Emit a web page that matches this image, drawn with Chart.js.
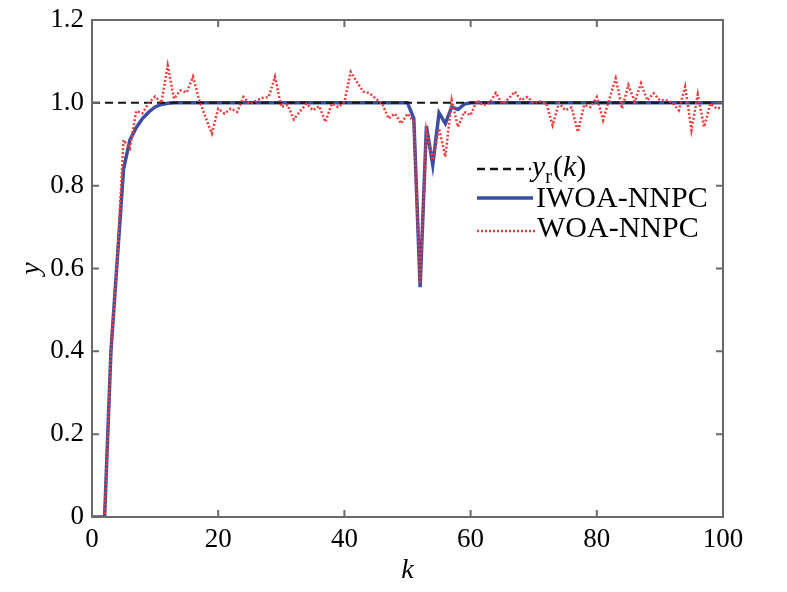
<!DOCTYPE html>
<html>
<head>
<meta charset="utf-8">
<script src="https://cdn.jsdelivr.net/npm/chart.js@4/dist/chart.umd.min.js"></script>
<style>
  html, body { margin: 0; padding: 0; background: #ffffff; }
  #wrap { width: 787px; height: 592px; }
</style>
</head>
<body>
<div id="wrap"><canvas id="c" width="787" height="592"></canvas></div>
<script>
// k (sample index)
const kValues = [0,1,2,3,4,5,6,7,8,9,10,11,12,13,14,15,16,17,18,19,20,
  21,22,23,24,25,26,27,28,29,30,31,32,33,34,35,36,37,38,39,40,
  41,42,43,44,45,46,47,48,49,50,51,52,53,54,55,56,57,58,59,60,
  61,62,63,64,65,66,67,68,69,70,71,72,73,74,75,76,77,78,79,80,
  81,82,83,84,85,86,87,88,89,90,91,92,93,94,95,96,97,98,99,100];

// reference y_r(k)
const yrValues = [1,1,1,1,1,1,1,1,1,1,1,1,1,1,1,1,1,1,1,1,1,
  1,1,1,1,1,1,1,1,1,1,1,1,1,1,1,1,1,1,1,1,
  1,1,1,1,1,1,1,1,1,1,1,1,1,1,1,1,1,1,1,1,
  1,1,1,1,1,1,1,1,1,1,1,1,1,1,1,1,1,1,1,1,
  1,1,1,1,1,1,1,1,1,1,1,1,1,1,1,1,1,1,1,1];

// IWOA-NNPC output
const iwoaValues = [0,0,0,0.40,0.62,0.84,0.91,0.94,0.962,0.978,0.99,
  0.996,0.999,1,1,1,1,1,1,1,1,
  1,1,1,1,1,1,1,1,1,1,
  1,1,1,1,1,1,1,1,1,1,
  1,1,1,1,1,1,1,1,1,1,
  0.962,0.555,0.944,0.85,0.976,0.95,0.99,0.984,0.997,1,
  1,1,1,1,1,1,1,1,1,1,
  1,1,1,1,1,1,1,1,1,1,
  1,1,1,1,1,1,1,1,1,1,
  1,1,1,1,1,1,1,1,1,1];

// WOA-NNPC output
const woaValues = [0,0,0,0.40,0.62,0.91,0.89,0.98,0.975,1.0,1.015,
  1.0,1.09,1.01,1.03,1.025,1.063,1.006,0.965,0.926,0.986,
  0.974,0.986,0.978,1.014,0.997,1.005,1.012,1.014,1.063,0.99,
  0.995,0.96,0.98,0.998,0.982,0.992,0.954,0.998,0.99,1.002,
  1.075,1.05,1.027,1.023,1.01,0.998,0.962,0.974,0.95,0.974,
  0.954,0.564,0.934,0.862,0.938,0.87,1.006,0.942,0.978,0.97,
  1.006,0.994,1.0,1.024,0.998,1.01,1.027,1.006,1.014,1.0,
  1.003,0.998,0.946,1.0,0.982,0.989,0.93,0.995,0.99,1.014,
  0.958,1.01,1.059,0.986,1.043,1.003,1.047,1.006,1.023,1.006,
  1.006,1.0,0.982,1.039,0.934,1.02,0.942,0.998,0.986,0.99];

const xTicks = [0,20,40,60,80,100];
const yTicks = [0,0.2,0.4,0.6,0.8,1.0,1.2];
const yTickLabels = ['0','0.2','0.4','0.6','0.8','1.0','1.2'];

const SERIF = "'Liberation Serif', 'DejaVu Serif', serif";
const FRAME = '#6a6a6a';
const BLUE = '#3a4ea8';
const RED = '#ee3b3b';
const BLACK = '#141414';

function pts(vals) { return vals.map((v, i) => ({ x: kValues[i], y: v })); }

const framePlugin = {
  id: 'frame',
  afterDatasetsDraw(chart) {
    const { ctx, chartArea: a, scales } = chart;
    const xs = scales.x, ys = scales.y;
    ctx.save();
    ctx.strokeStyle = FRAME;
    ctx.lineWidth = 2;
    ctx.strokeRect(a.left, a.top, a.right - a.left, a.bottom - a.top);
    const tl = 7;
    ctx.beginPath();
    xTicks.forEach(t => {
      const px = xs.getPixelForValue(t);
      ctx.moveTo(px, a.bottom); ctx.lineTo(px, a.bottom - tl);
      ctx.moveTo(px, a.top); ctx.lineTo(px, a.top + tl);
    });
    yTicks.forEach(t => {
      const py = ys.getPixelForValue(t);
      ctx.moveTo(a.left, py); ctx.lineTo(a.left + tl, py);
      ctx.moveTo(a.right, py); ctx.lineTo(a.right - tl, py);
    });
    ctx.stroke();
    ctx.restore();
  },
  afterDraw(chart) {
    const { ctx } = chart;
    ctx.save();
    ctx.textBaseline = 'alphabetic';
    ctx.fillStyle = '#000';
    const x0 = 477;
    // row 1: y_r(k)
    ctx.strokeStyle = BLACK; ctx.lineWidth = 2.5; ctx.setLineDash([8, 5]);
    ctx.beginPath(); ctx.moveTo(x0, 169); ctx.lineTo(531, 169); ctx.stroke();
    ctx.setLineDash([]);
    let x = 532;
    ctx.font = 'italic 30px ' + SERIF;
    ctx.fillText('y', x, 176); x += ctx.measureText('y').width;
    ctx.font = '20px ' + SERIF;
    ctx.fillText('r', x, 183); x += ctx.measureText('r').width + 1;
    ctx.font = '30px ' + SERIF;
    ctx.fillText('(', x, 176); x += ctx.measureText('(').width;
    ctx.font = 'italic 30px ' + SERIF;
    ctx.fillText('k', x, 176); x += ctx.measureText('k').width;
    ctx.font = '30px ' + SERIF;
    ctx.fillText(')', x, 176);
    // row 2
    ctx.strokeStyle = BLUE; ctx.lineWidth = 3.5;
    ctx.beginPath(); ctx.moveTo(x0, 198); ctx.lineTo(533, 198); ctx.stroke();
    ctx.font = '30px ' + SERIF;
    ctx.fillText('IWOA-NNPC', 536, 207);
    // row 3
    ctx.strokeStyle = RED; ctx.lineWidth = 2.5; ctx.setLineDash([2, 2]);
    ctx.beginPath(); ctx.moveTo(x0, 231); ctx.lineTo(535, 231); ctx.stroke();
    ctx.setLineDash([]);
    ctx.fillText('WOA-NNPC', 537, 237);
    ctx.restore();
  }
};

new Chart(document.getElementById('c'), {
  type: 'line',
  data: {
    datasets: [
      { label: 'WOA-NNPC', data: pts(woaValues), borderColor: RED, borderWidth: 2.5,
        borderDash: [2, 2], pointRadius: 0, tension: 0, fill: false, order: 0 },
      { label: 'yr(k)', data: pts(yrValues), borderColor: BLACK, borderWidth: 2,
        borderDash: [8, 5], pointRadius: 0, tension: 0, fill: false, order: 1 },
      { label: 'IWOA-NNPC', data: pts(iwoaValues), borderColor: BLUE, borderWidth: 3.5,
        pointRadius: 0, tension: 0, fill: false, order: 2 }
    ]
  },
  options: {
    responsive: false,
    animation: false,
    devicePixelRatio: 1,
    layout: { padding: { left: 0, top: 20, right: 64, bottom: 0 } },
    plugins: { legend: { display: false }, tooltip: { enabled: false } },
    scales: {
      x: {
        type: 'linear', min: 0, max: 100,
        grid: { display: false, drawTicks: false },
        border: { display: false },
        afterBuildTicks: s => { s.ticks = xTicks.map(v => ({ value: v })); },
        afterFit: s => { s.height = 75; },
        ticks: { color: '#000', font: { family: SERIF, size: 27 }, padding: 7, maxRotation: 0,
          callback: v => String(v) },
        title: { display: true, text: 'k', color: '#000',
          font: { family: SERIF, size: 28, style: 'italic' }, padding: { top: 0, bottom: 5 } }
      },
      y: {
        type: 'linear', min: 0, max: 1.2,
        grid: { display: false, drawTicks: false },
        border: { display: false },
        afterBuildTicks: s => { s.ticks = yTicks.map(v => ({ value: v })); },
        afterFit: s => { s.width = 92; },
        ticks: { color: '#000', font: { family: SERIF, size: 27, lineHeight: 0.6 }, padding: 8,
          callback: (v) => { const i = yTicks.findIndex(t => Math.abs(t - v) < 1e-9); return i >= 0 ? yTickLabels[i] : ''; } },
        title: { display: true, text: 'y', color: '#000',
          font: { family: SERIF, size: 28, style: 'italic' }, padding: { top: 15, bottom: 0 } }
      }
    }
  },
  plugins: [framePlugin]
});
</script>
</body>
</html>
